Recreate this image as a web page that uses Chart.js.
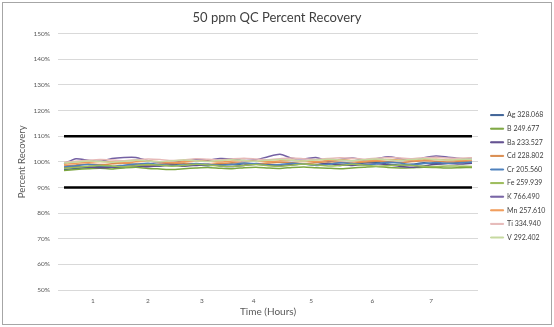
<!DOCTYPE html>
<html>
<head>
<meta charset="utf-8">
<script src="https://cdn.jsdelivr.net/npm/chart.js@4/dist/chart.umd.min.js"></script>
<style>
  html, body { margin: 0; padding: 0; background: #fff; }
  #wrap { position: relative; width: 554px; height: 327px; }
</style>
</head>
<body>
<div id="wrap"><canvas id="qcChart"></canvas></div>
<script>
// hour labels and where they sit along the sample axis (sample index units)
const hourLabels = ['1', '2', '3', '4', '5', '6', '7'];
const hourTickPos = [2.4, 7, 11.5, 15.8, 20.6, 25.7, 30.6];

const upperLimit = 110;
const lowerLimit = 90;

const seriesNames = ['Ag 328.068', 'B 249.677', 'Ba 233.527', 'Cd 228.802', 'Cr 205.560',
                     'Fe 259.939', 'K 766.490', 'Mn 257.610', 'Ti 334.940', 'V 292.402'];
const seriesColors = ['#3D6296', '#7BA53F', '#5E4C8E', '#D98B4E', '#4F81BD',
                      '#9BBB59', '#7460A3', '#F09A58', '#E6B9B8', '#C6D9A0'];

// percent recovery per sample
const ag = [97.0, 97.4, 97.8, 98.2, 98.0, 97.9, 98.3, 98.6, 98.4, 98.9, 99.2, 98.8, 98.5, 98.9, 99.1, 98.7, 99.3, 99.0,
            98.6, 98.8, 99.2, 98.9, 99.4, 98.6, 98.9, 99.5, 99.8, 99.1, 98.7, 99.0, 99.6, 99.2, 99.4, 99.8, 99.5];
const b = [96.6, 97.0, 97.3, 97.5, 97.2, 97.6, 97.9, 97.4, 97.2, 97.0, 97.3, 97.6, 97.8, 97.5, 97.3, 97.7, 97.9, 97.6,
           97.4, 97.8, 98.0, 97.7, 97.5, 97.3, 97.6, 97.9, 98.2, 97.8, 97.6, 97.7, 97.9, 97.8, 97.6, 97.7, 97.8];
const ba = [97.8, 98.2, 98.0, 97.7, 97.9, 98.3, 98.5, 98.1, 98.4, 98.7, 98.3, 98.6, 98.9, 98.4, 98.2, 98.6, 99.0, 98.7,
            98.5, 98.9, 99.1, 98.8, 99.3, 99.0, 98.6, 98.9, 99.2, 98.8, 98.2, 97.9, 98.4, 99.0, 99.3, 99.1, 99.4];
const cd = [98.4, 98.8, 99.1, 98.9, 99.2, 99.4, 99.0, 98.8, 99.1, 99.3, 99.5, 99.2, 99.0, 99.3, 99.6, 99.4, 99.1, 99.5,
            99.8, 99.6, 99.3, 99.7, 100.0, 99.8, 99.5, 99.9, 100.2, 100.0, 99.7, 100.1, 100.4, 100.2, 99.9, 100.1, 100.3];
const cr = [98.0, 98.5, 98.9, 98.6, 98.2, 98.7, 99.1, 99.4, 98.9, 98.5, 98.8, 99.3, 99.0, 98.6, 98.9, 99.5, 99.2, 98.7,
            98.9, 99.4, 99.1, 98.6, 99.0, 99.6, 99.3, 98.8, 99.2, 99.8, 99.5, 98.9, 99.3, 99.7, 99.4, 99.6, 99.9];
const fe = [97.5, 97.9, 98.3, 98.6, 98.4, 98.1, 98.5, 98.9, 98.7, 98.3, 98.6, 99.0, 98.8, 98.4, 98.2, 98.6, 98.9, 98.5,
            98.3, 98.7, 99.1, 98.8, 98.4, 98.6, 99.0, 98.7, 98.3, 98.5, 98.8, 98.6, 98.3, 98.2, 98.4, 98.3, 98.2];
const k = [99.3, 101.2, 100.6, 100.2, 101.3, 101.7, 101.7, 100.4, 99.8, 99.7, 100.4, 100.9, 100.6, 101.3, 101.1, 100.5, 100.8, 102.0,
           102.9, 101.4, 101.2, 101.7, 100.4, 100.9, 101.5, 100.7, 101.2, 102.0, 101.3, 100.4, 101.6, 102.3, 101.8, 101.3, 101.0];
const mn = [99.0, 99.4, 99.8, 100.1, 99.9, 99.6, 100.0, 100.3, 100.0, 99.7, 100.1, 100.4, 100.2, 99.9, 100.3, 100.5, 100.2, 100.0,
            100.4, 100.6, 100.3, 100.1, 100.5, 100.8, 100.5, 100.2, 100.6, 100.9, 100.7, 100.4, 100.8, 101.0, 100.7, 100.6, 100.8];
const ti = [99.8, 100.2, 100.6, 100.9, 100.7, 100.4, 100.8, 101.1, 100.9, 100.5, 100.8, 101.2, 101.0, 100.7, 101.1, 101.4, 101.1, 100.8,
            101.2, 101.5, 101.2, 100.9, 101.3, 101.6, 101.4, 101.0, 101.4, 101.7, 101.5, 101.2, 101.6, 101.8, 101.5, 101.4, 101.6];
const v = [99.5, 99.9, 100.3, 100.1, 99.8, 100.2, 100.6, 100.3, 100.0, 100.4, 100.7, 100.4, 100.1, 100.5, 100.8, 100.5, 100.2, 100.6,
           100.9, 100.6, 100.3, 100.7, 101.0, 100.7, 100.4, 100.8, 101.1, 100.8, 100.5, 100.9, 101.2, 100.9, 100.7, 100.9, 101.0];

const seriesValues = [ag, b, ba, cd, cr, fe, k, mn, ti, v];

const FONT = 'Lato, "Open Sans", sans-serif';
const toPoints = vals => vals.map((y, i) => ({ x: i, y: y }));

const datasets = seriesValues.map((vals, i) => ({
    label: seriesNames[i],
    data: toPoints(vals),
    borderColor: seriesColors[i],
    backgroundColor: seriesColors[i],
    borderWidth: 1.5,
    pointRadius: 0,
    tension: 0.2,
    order: seriesValues.length - i + 2
}));

// QC limits
[upperLimit, lowerLimit].forEach((lim, j) => {
    datasets.push({
        label: 'limit' + j,
        data: ag.map((_, i) => ({ x: i, y: lim })),
        borderColor: '#000',
        backgroundColor: '#000',
        borderWidth: 2.5,
        pointRadius: 0,
        order: 0
    });
});

const chartTweaks = {
    id: 'chartTweaks',
    beforeInit(chart) {
        const origFit = chart.legend.fit;
        chart.legend.fit = function () {
            origFit.call(this);
            this.width = 76;
        };
    },
    afterLayout(chart) {
        const lg = chart.legend;
        lg.left += 6;
        lg.right += 6;
        lg.top = 105;
    },
    afterDraw(chart) {
        const ctx = chart.ctx;
        ctx.save();
        ctx.strokeStyle = '#A6A6A6';
        ctx.lineWidth = 1;
        ctx.strokeRect(2.5, 2.5, 549, 322);
        ctx.restore();
    }
};

const defaultLabels = Chart.defaults.plugins.legend.labels.generateLabels;

new Chart(document.getElementById('qcChart'), {
    type: 'line',
    data: { datasets: datasets },
    options: {
        responsive: true,
        maintainAspectRatio: false,
        animation: false,
        layout: { padding: 0 },
        plugins: {
            title: {
                display: true,
                text: '50 ppm QC Percent Recovery',
                color: '#404040',
                font: { family: FONT, size: 13, weight: 'normal' },
                padding: { top: 10, bottom: 8 }
            },
            legend: {
                position: 'right',
                align: 'start',
                labels: {
                    color: '#404040',
                    font: { family: FONT, size: 7 },
                    boxWidth: 13,
                    boxHeight: 1,
                    padding: 6.6,
                    generateLabels: chart => defaultLabels(chart).map(item => {
                        item.lineWidth = 1;
                        return item;
                    }),
                    filter: item => !item.text.startsWith('limit'),
                    sort: (a, b2) => a.datasetIndex - b2.datasetIndex
                }
            },
            tooltip: { enabled: false }
        },
        scales: {
            x: {
                type: 'linear',
                min: -0.5,
                max: ag.length - 0.5,
                afterBuildTicks: scale => {
                    scale.ticks = hourTickPos.map(p => ({ value: p }));
                },
                afterFit: scale => { scale.height = 37; },
                grid: { display: false, drawTicks: false },
                border: { display: false },
                ticks: {
                    autoSkip: false,
                    maxRotation: 0,
                    padding: 7,
                    color: '#595959',
                    font: { family: FONT, size: 6.5 },
                    callback: val => hourLabels[hourTickPos.indexOf(val)]
                },
                title: {
                    display: true,
                    text: 'Time (Hours)',
                    color: '#595959',
                    font: { family: FONT, size: 10 },
                    padding: { top: 0, bottom: 9 }
                }
            },
            y: {
                min: 50,
                max: 150,
                afterFit: scale => { scale.width = 58; },
                grid: { color: '#D9D9D9', lineWidth: 1, drawTicks: false },
                border: { display: false },
                ticks: {
                    stepSize: 10,
                    padding: 8,
                    color: '#595959',
                    font: { family: FONT, size: 6.5 },
                    callback: val => val + '%'
                },
                title: {
                    display: true,
                    text: 'Percent Recovery',
                    color: '#595959',
                    font: { family: FONT, size: 9.5 },
                    padding: { top: 16, bottom: 0 }
                }
            }
        }
    },
    plugins: [chartTweaks]
});
</script>
</body>
</html>
